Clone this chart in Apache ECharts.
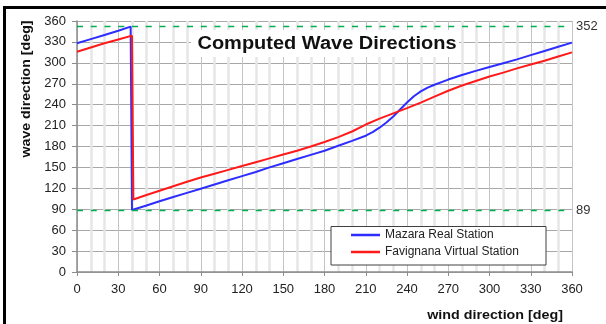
<!DOCTYPE html>
<html>
<head>
<meta charset="utf-8">
<script src="https://cdn.jsdelivr.net/npm/echarts@6/dist/echarts.min.js"></script>
<style>
    html, body { margin: 0; padding: 0; background: #fff; }
    #chart { width: 606px; height: 324px; }
</style>
</head>
<body>
<div id="chart"></div>
<script>
// wind direction [deg] -> wave direction [deg]
var mazaraWind = [0, 10, 20, 30, 39, 40, 50, 60, 70, 80, 90, 100, 110, 120, 130, 140, 150, 160, 170, 180,
    190, 200, 210, 215, 220, 225, 230, 235, 240, 245, 250, 255, 260, 270, 280, 290, 300, 310, 320, 330, 340, 350, 360];
var mazaraWave = [328, 334, 340, 346, 352, 89, 95, 101.5, 107.5, 113.5, 119.5, 125.5, 131.5, 137.5, 143.5, 150, 156, 162, 168, 174,
    181, 188, 195.5, 200.5, 207, 214.5, 223, 233, 243, 252, 259, 264.5, 268.5, 276, 282.5, 288.5, 294, 299.5, 305, 311, 317, 323, 329];

var favignanaWind = [0, 10, 20, 30, 40, 41, 50, 60, 70, 80, 90, 100, 110, 120, 130, 140, 150, 160, 170, 180,
    190, 200, 210, 220, 230, 240, 250, 260, 270, 280, 290, 300, 310, 320, 330, 340, 350, 360];
var favignanaWave = [316, 322, 328, 333.5, 339, 104, 110, 116.5, 123, 129.5, 135.5, 141, 146.5, 152, 157.5, 163, 168.5, 174, 180, 186.5,
    193.5, 201.5, 211.5, 220, 227.5, 235, 243, 251.5, 260, 267.5, 274, 280.5, 286, 292, 297.5, 303, 309, 315];

var refLevels = [352, 89];
var axisMin = 0;
var axisMax = 360;
var tickStep = 30;

function pairs(xs, ys) {
    return xs.map(function (x, i) { return [x, ys[i]]; });
}

var myChart = echarts.init(document.getElementById('chart'));

var option = {
    animation: false,
    textStyle: { fontFamily: 'Arial, "Liberation Sans", sans-serif' },
    grid: { left: 77, right: 34, top: 21, height: 251 },
    xAxis: {
        type: 'value',
        min: axisMin,
        max: axisMax,
        interval: tickStep,
        axisLine: { lineStyle: { color: '#8c8c8c', width: 1.5 } },
        axisTick: { show: true, length: 4, lineStyle: { color: '#8c8c8c' } },
        axisLabel: { color: '#222', fontSize: 13, margin: 11 },
        splitLine: { show: true, lineStyle: { color: '#c4c4c4', width: 1 } },
        minorTick: { show: false, splitNumber: 3 },
        minorSplitLine: { show: true, lineStyle: { color: '#e6e6e6', width: 2.5 } }
    },
    yAxis: {
        type: 'value',
        min: axisMin,
        max: axisMax,
        interval: tickStep,
        axisLine: { show: true, lineStyle: { color: '#8c8c8c', width: 1.5 } },
        axisTick: { show: true, length: 5, lineStyle: { color: '#8c8c8c' } },
        axisLabel: { color: '#222', fontSize: 13, margin: 11 },
        splitLine: { show: true, lineStyle: { color: '#a8a8a8', width: 1 } }
    },
    legend: {
        orient: 'vertical',
        left: 331,
        top: 227,
        z: 6,
        padding: [2, 10, 3, 20],
        itemGap: 5,
        itemWidth: 29,
        itemHeight: 2.5,
        icon: 'rect',
        textStyle: { color: '#222', fontSize: 12 },
        data: ['Mazara Real Station', 'Favignana Virtual Station']
    },
    graphic: [
        { type: 'rect', z: 100, shape: { x: 3, y: 6, width: 603, height: 3 }, style: { fill: '#000' } },
        { type: 'rect', z: 100, shape: { x: 3, y: 6, width: 3, height: 318 }, style: { fill: '#000' } },
        { type: 'rect', z: 3, shape: { x: 191, y: 30, width: 268, height: 27 }, style: { fill: '#fff' } },
        {
            type: 'text', z: 4, x: 327, y: 44.5, scaleX: 1.11,
            style: {
                text: 'Computed Wave Directions', fill: '#111',
                font: 'bold 18px Arial, "Liberation Sans", sans-serif',
                textAlign: 'center', textVerticalAlign: 'middle'
            }
        },
        { type: 'rect', z: 3, shape: { x: 331, y: 226.5, width: 215, height: 38.5 },
            style: { fill: '#fff', stroke: '#404040', lineWidth: 1 } },
        {
            type: 'text', z: 4, x: 563, y: 315, scaleX: 1.1,
            style: {
                text: 'wind direction [deg]', fill: '#111',
                font: 'bold 13px Arial, "Liberation Sans", sans-serif',
                textAlign: 'right', textVerticalAlign: 'middle'
            }
        },
        {
            type: 'text', z: 4, x: 26, y: 89, rotation: Math.PI / 2, scaleX: 1.09,
            style: {
                text: 'wave direction [deg]', fill: '#111',
                font: 'bold 13px Arial, "Liberation Sans", sans-serif',
                textAlign: 'center', textVerticalAlign: 'middle'
            }
        }
    ],
    series: [
        {
            name: 'Mazara Real Station',
            type: 'line',
            showSymbol: false,
            symbol: 'none',
            itemStyle: { color: '#2d2dff' },
            lineStyle: { color: '#2d2dff', width: 2 },
            data: pairs(mazaraWind, mazaraWave),
            markLine: {
                silent: true,
                symbol: 'none',
                lineStyle: { color: '#00b050', type: [6, 7.75], width: 1.3 },
                label: { position: 'end', distance: 4, color: '#333', fontSize: 13, formatter: '{c}' },
                data: refLevels.map(function (v) { return { yAxis: v }; })
            }
        },
        {
            name: 'Favignana Virtual Station',
            type: 'line',
            showSymbol: false,
            symbol: 'none',
            itemStyle: { color: '#ff1a1a' },
            lineStyle: { color: '#ff1a1a', width: 2 },
            data: pairs(favignanaWind, favignanaWave)
        }
    ]
};

myChart.setOption(option);
</script>
</body>
</html>
